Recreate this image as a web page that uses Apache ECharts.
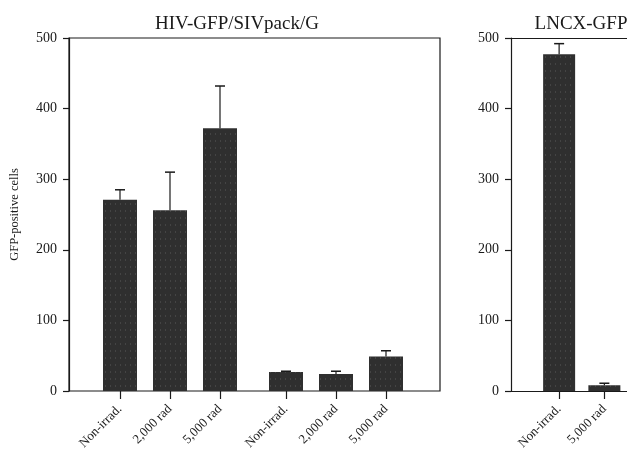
<!DOCTYPE html>
<html><head><meta charset="utf-8">
<script src="https://cdn.jsdelivr.net/npm/echarts@6/dist/echarts.min.js"></script>
<style>html,body{margin:0;padding:0;background:#fff}#c{width:627px;height:456px}</style>
</head><body><div id="c"></div>
<script>
// Data
const yTicks = [0, 100, 200, 300, 400, 500];
const hivGroup1 = ['Non-irrad.', '2,000 rad', '5,000 rad'];
const hivGroup1Values = [271, 256, 372];
const hivGroup1ErrTop = [285, 310, 432];
const hivGroup2 = ['Non-irrad.', '2,000 rad', '5,000 rad'];
const hivGroup2Values = [27, 24, 49];
const hivGroup2ErrTop = [28, 28, 57];
const lncxCats = ['Non-irrad.', '5,000 rad'];
const lncxValues = [477, 8];
const lncxErrTop = [492, 11];

const FONT = 'Liberation Serif, Times New Roman, serif';
const INK = '#1a1a1a';
const BAR = '#2f2f2f';
const TOP = 38, H = 353;

const chart = echarts.init(document.getElementById('c'));

const barDecal = {
  symbol: 'rect', symbolSize: 1, color: 'rgba(255,255,255,0.10)',
  dashArrayX: [1, 4], dashArrayY: [2, 5], rotation: 0
};

function errSeries(idx, cats, vals, tops) {
  return {
    type: 'custom', xAxisIndex: idx, yAxisIndex: idx, z: 5,
    data: cats.map((c, i) => [i, vals[i], tops[i]]),
    renderItem: function (params, api) {
      const b = api.coord([api.value(0), api.value(1)]);
      const t = api.coord([api.value(0), api.value(2)]);
      const hw = 5;
      return { type: 'group', children: [
        { type: 'line', shape: { x1: b[0], y1: b[1], x2: t[0], y2: t[1] }, style: { stroke: INK, lineWidth: 1.2 } },
        { type: 'line', shape: { x1: t[0] - hw, y1: t[1], x2: t[0] + hw, y2: t[1] }, style: { stroke: INK, lineWidth: 1.5 } }
      ]};
    }
  };
}

function catAxis(grid, cats) {
  return {
    type: 'category', gridIndex: grid, data: cats,
    axisLine: { show: false },
    axisTick: { show: true, alignWithLabel: true, length: 8, lineStyle: { color: INK, width: 1.2 } },
    axisLabel: { rotate: 45, fontFamily: FONT, fontSize: 13, color: INK, margin: 16 }
  };
}
function hiddenY(grid) {
  return { type: 'value', gridIndex: grid, min: 0, max: yTicks[yTicks.length - 1], interval: 100, show: false };
}
function frameY(grid, name) {
  return {
    type: 'value', gridIndex: grid, min: yTicks[0], max: yTicks[yTicks.length - 1], interval: yTicks[1] - yTicks[0],
    name: name, nameLocation: 'middle', nameGap: 48, nameRotate: 90,
    nameTextStyle: { fontFamily: FONT, fontSize: 12.5, color: INK },
    axisLine: { show: true, lineStyle: { color: INK, width: 1.2 } },
    axisTick: { show: true, length: 6, lineStyle: { color: INK, width: 1.2 } },
    axisLabel: { fontFamily: FONT, fontSize: 14, color: INK, margin: 12 },
    splitLine: { show: false }
  };
}
function lineX(grid, pos) {
  return { type: 'value', gridIndex: grid, min: 0, max: 1, position: pos,
    axisLine: { show: true, onZero: false, lineStyle: { color: INK, width: 1.2 } },
    axisTick: { show: false }, axisLabel: { show: false }, splitLine: { show: false } };
}

chart.setOption({
  animation: false,
  backgroundColor: '#fff',
  title: [
    { text: 'HIV-GFP/SIVpack/G', left: 232, top: 10, textAlign: 'center', textStyle: { fontFamily: FONT, fontSize: 19, fontWeight: 'normal', color: INK } },
    { text: 'LNCX-GFP', left: 576, top: 10, textAlign: 'center', textStyle: { fontFamily: FONT, fontSize: 19, fontWeight: 'normal', color: INK } }
  ],
  grid: [
    { left: 69, width: 371, top: TOP, height: H, show: true, borderColor: INK, borderWidth: 1.2 },
    { left: 95, width: 150, top: TOP, height: H },
    { left: 261, width: 150, top: TOP, height: H },
    { left: 511, right: 0, top: TOP, height: H },
    { left: 536.5, width: 98, top: TOP, height: H }
  ],
  xAxis: [
    { type: 'value', gridIndex: 0, show: false, min: 0, max: 1 },
    catAxis(1, hivGroup1),
    catAxis(2, hivGroup2),
    lineX(3, 'bottom'),
    catAxis(4, lncxCats),
    lineX(3, 'top')
  ],
  yAxis: [
    frameY(0, 'GFP-positive cells'),
    hiddenY(1),
    hiddenY(2),
    frameY(3, ''),
    hiddenY(4)
  ],
  series: [
    { type: 'bar', xAxisIndex: 1, yAxisIndex: 1, data: hivGroup1Values, barWidth: 34, itemStyle: { color: BAR, decal: barDecal } },
    { type: 'bar', xAxisIndex: 2, yAxisIndex: 2, data: hivGroup2Values, barWidth: 34, itemStyle: { color: BAR, decal: barDecal } },
    { type: 'bar', xAxisIndex: 4, yAxisIndex: 4, data: lncxValues, barWidth: 32, itemStyle: { color: BAR, decal: barDecal } },
    errSeries(1, hivGroup1, hivGroup1Values, hivGroup1ErrTop),
    errSeries(2, hivGroup2, hivGroup2Values, hivGroup2ErrTop),
    errSeries(4, lncxCats, lncxValues, lncxErrTop)
  ]
});
</script></body></html>
